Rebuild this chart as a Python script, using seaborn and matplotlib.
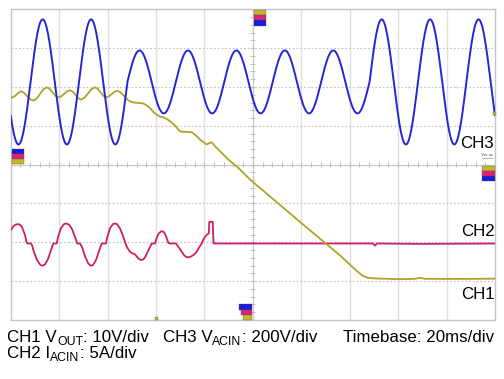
import numpy as np
import pandas as pd
import matplotlib
matplotlib.use("Agg")
import matplotlib.pyplot as plt
import seaborn as sns
from matplotlib.patches import Rectangle
from matplotlib.collections import LineCollection

# ---------------- data ----------------
timebase_ms_per_div = 20
n_xdiv = 10
n_ydiv = 8

# CH3 V_ACIN, 200 V/div: 50 Hz mains, peak amplitude of each cycle
# (each cycle starts at a rising zero crossing)
ch3_scale_V_per_div = 200
ch3_offset_div = 2.13
ch3_period_ms = 20.0
ch3_cycle_start_ms = [-11.8, 8.2, 28.2, 48.2, 68.2, 88.2, 108.2, 128.2, 148.2, 168.2, 188.2]
ch3_cycle_peak_V = [322, 322, 322, 162, 162, 162, 162, 162, 322, 322, 322]

# CH2 I_ACIN, 5 A/div
ch2_scale_A_per_div = 5
ch2_offset_div = -2.03
ch2_t_ms = [0, 1.36, 2.2, 3.14, 4.0, 4.67, 5.91, 6.61, 6.94, 8.38, 8.80, 9.62, 10.86, 12.10, 13.05,
            14.17, 15.40, 16.64, 17.59, 18.99, 19.53, 20.77, 22.01, 22.84, 24.08, 25.32,
            26.55, 27.50, 28.62, 29.45, 30.69, 31.92, 33.04, 33.99, 35.23, 36.46, 37.58,
            39.36, 39.77, 41.01, 42.25, 42.78, 43.90, 45.14, 46.38, 47.90, 49.27, 50.51,
            51.33, 52.70, 53.69, 54.64, 55.46, 56.70, 58.23, 59.59, 60.42, 61.24, 62.36,
            63.31, 64.13, 65.08, 65.79, 68.26, 69.21, 69.91, 70.62, 71.57, 72.39, 73.34,
            74.46, 75.70, 76.81, 77.76, 78.88, 79.42, 80.24, 81.07, 81.81, 82.02, 83.42,
            83.75, 102.95, 119.47, 149.62, 150.45, 151.27, 169.03, 200.0]
ch2_I_A = [1.72, 2.30, 2.45, 2.49, 2.38, 2.11, 1.08, 0.09, 0.0, 0.0, -0.21, -1.11, -2.13, -2.71, -2.87,
           -2.71, -2.00, -0.85, 0.0, 0.0, 0.82, 1.98, 2.49, 2.58, 2.43, 1.85,
           0.82, 0.0, 0.0, -0.46, -1.62, -2.52, -2.87, -2.77, -2.13, -0.98, 0.0,
           0.0, 0.69, 1.98, 2.49, 2.58, 2.49, 1.94, 0.95, -0.42, -1.07, -1.30,
           -1.40, -1.91, -2.13, -2.07, -1.79, -0.98, 0.0, 0.0, 0.82, 1.34, 1.59,
           1.46, 0.95, 0.09, 0.0, 0.0, -0.42, -0.72, -1.07, -1.49, -1.72, -1.79,
           -1.68, -1.43, -1.07, -0.53, 0.0, 0.44, 0.86, 1.14, 1.30, 2.79, 2.79,
           0.0, 0.0, 0.0, 0.0, -0.27, 0.0, -0.05, 0.0]

# CH1 V_OUT, 10 V/div
ch1_scale_V_per_div = 10
ch1_offset_div = -2.94
ch1_t_ms = [0, 1.4, 2.8, 4.13, 5.43, 6.73, 8.03, 9.33, 10.72, 12.10, 13.49, 14.87,
            16.07, 17.27, 18.46, 19.66, 20.87, 22.08, 23.28, 24.49, 25.63, 26.76, 27.90,
            29.03, 30.48, 31.92, 33.37, 34.81, 35.95, 37.09, 38.22, 39.36, 40.53, 41.69,
            42.86, 44.02, 45.2, 46.5, 47.6, 48.57, 49.8, 50.92, 52.57, 54.64, 56.0, 57.53,
            59.0, 60.29, 61.66, 63.02, 64.4, 65.79, 67.85, 69.0, 69.92, 71.2, 72.68, 74.75,
            76.5, 78.18, 80.94, 82.10, 83.01, 84.37, 89.86, 93.99, 98.82, 119.47, 135.99,
            142.18, 145.07, 147.55, 152.51, 160.77, 166.96, 169.03, 171.10, 185.56, 200.0]
ch1_V = [46.59, 46.9, 47.7, 48.28, 47.93, 47.09, 46.24, 45.89, 46.39, 47.60, 48.81, 49.31,
         48.93, 48.03, 47.12, 46.74, 47.00, 47.64, 48.28, 48.54, 48.19, 47.35, 46.50,
         46.15, 46.61, 47.73, 48.85, 49.31, 48.93, 48.03, 47.12, 46.74, 46.98, 47.58,
         48.17, 48.41, 48.1, 47.3, 46.5, 45.97, 45.55, 45.38, 45.30, 45.17, 44.7, 43.96,
         42.9, 42.29, 41.78, 41.60, 41.2, 40.57, 39.47, 38.6, 38.00, 37.85, 37.85, 37.72,
         36.9, 35.87, 34.58, 34.97, 35.17, 34.14, 30.72, 28.59, 25.58, 14.65, 6.04,
         2.44, 0.90, 0.23, 0.05, -0.08, 0.0, 0.28, 0.0, -0.03, 0.05]

label_ch1 = "CH1"
label_ch2 = "CH2"
label_ch3 = "CH3"
# caption pieces: (text, is_subscript)
caption_1a = [("CH1 V", False), ("OUT", True), (": 10V/div", False)]
caption_1b = [("CH3 V", False), ("ACIN", True), (": 200V/div", False)]
caption_1c = [("Timebase: 20ms/div", False)]
caption_2 = [("CH2 I", False), ("ACIN", True), (": 5A/div", False)]

# ---------------- styling ----------------
sns.set_style("white")
plt.rcParams["font.family"] = ["Liberation Sans", "DejaVu Sans"]

C_YEL = "#aea42a"
C_PNK = "#cc2068"
C_BLU = "#2626d2"

W, H = 504, 379
fig = plt.figure(figsize=(W / 100, H / 100), dpi=100)
fig.patch.set_facecolor("white")

L, R, T, B = 10.7, 495.0, 9.3, 320.0
ax = fig.add_axes([L / W, 1 - B / H, (R - L) / W, (B - T) / H])
xmax = timebase_ms_per_div * n_xdiv
ax.set_xlim(0, xmax)
ax.set_ylim(-n_ydiv / 2, n_ydiv / 2)
ax.set_xticks([])
ax.set_yticks([])
for s in ax.spines.values():
    s.set_color("#c4c4c4")
    s.set_linewidth(1.0)

# graticule
for k in range(1, n_xdiv):
    if k == n_xdiv // 2:
        continue
    ax.axvline(k * timebase_ms_per_div, color="#e0e0e0", lw=1.0, zorder=0)
for j in range(-3, 4):
    if j == 0:
        continue
    ax.axhline(j, color="#c8c8c8", lw=0.9, ls=(0, (1.5, 1.5)), zorder=0)
ax.axhline(0, color="#c8c8c8", lw=0.9, zorder=0)
ax.axvline(xmax / 2, color="#c8c8c8", lw=0.9, zorder=0)
segs = []
for x in np.arange(0, xmax + 0.01, timebase_ms_per_div / 5):
    segs.append([(x, -0.06), (x, 0.06)])
for y in np.arange(-4, 4.01, 0.2):
    segs.append([(xmax / 2 - 1.0, y), (xmax / 2 + 1.0, y)])
ax.add_collection(LineCollection(segs, colors="#c0c0c0", linewidths=0.8, zorder=0))
dots_x = np.arange(4, xmax, timebase_ms_per_div)
for yy in (-2.5, 2.5):
    ax.scatter(dots_x, np.full_like(dots_x, yy), s=1.2, color="#cfcfcf", lw=0, zorder=0)

# CH3 waveform from per-cycle peak amplitudes
t = np.linspace(0, xmax, 4001)
starts = np.array(ch3_cycle_start_ms)
idx = np.clip(np.searchsorted(starts, t, side="right") - 1, 0, len(starts) - 1)
amp = np.array(ch3_cycle_peak_V)[idx]
ch3_V = amp * np.sin(2 * np.pi * (t - starts[idx]) / ch3_period_ms)

df3 = pd.DataFrame({"t": t, "div": ch3_V / ch3_scale_V_per_div + ch3_offset_div})
df2 = pd.DataFrame({"t": ch2_t_ms, "div": np.array(ch2_I_A) / ch2_scale_A_per_div + ch2_offset_div})
df1 = pd.DataFrame({"t": ch1_t_ms, "div": np.array(ch1_V) / ch1_scale_V_per_div + ch1_offset_div})

sns.lineplot(data=df2, x="t", y="div", ax=ax, color=C_PNK, lw=1.3, estimator=None, sort=False, zorder=3)
sns.lineplot(data=df1, x="t", y="div", ax=ax, color=C_YEL, lw=1.3, estimator=None, sort=False, zorder=4)
sns.lineplot(data=df3, x="t", y="div", ax=ax, color=C_BLU, lw=1.4, estimator=None, sort=False, zorder=5)
ax.set_xlabel("")
ax.set_ylabel("")
ax.set_xlim(0, xmax)
ax.set_ylim(-n_ydiv / 2, n_ydiv / 2)

# overlay in pixel coordinates for labels & channel markers
ov = fig.add_axes([0, 0, 1, 1], zorder=10)
ov.set_xlim(0, W)
ov.set_ylim(H, 0)
ov.axis("off")
ov.patch.set_alpha(0)

MY, MP, MB = "#c2b828", "#e0207a", "#1c1cd8"
markers = [
    (254.3, 10.0, 11.7, 5.0, MY), (254.3, 15.0, 11.7, 5.0, MP), (254.3, 20.0, 11.7, 5.5, MB),
    (11.7, 149.0, 12.3, 5.0, MB), (11.7, 154.0, 12.3, 5.0, MP), (11.7, 159.2, 12.3, 4.5, MY),
    (481.7, 166.0, 13.3, 5.0, MY), (481.7, 171.0, 13.3, 5.0, MP), (481.7, 176.0, 13.3, 5.0, MB),
    (239.0, 304.3, 12.7, 5.4, MB), (241.0, 309.7, 10.7, 5.3, MP), (243.0, 315.0, 8.7, 5.0, MY),
    (155.0, 316.5, 2.5, 3.5, MY), (493.0, 112.0, 3.0, 3.0, MY),
]
for (x0, y0, w, h, c) in markers:
    ov.add_patch(Rectangle((x0, y0), w, h, facecolor=c, edgecolor="#555555", lw=0.25))

fs = 12.2
fs_sub = 8.8
ov.text(493.5, 148.3, label_ch3, fontsize=fs, ha="right", va="baseline", color="black")
ov.text(495.0, 236.0, label_ch2, fontsize=fs, ha="right", va="baseline", color="black")
ov.text(495.0, 299.3, label_ch1, fontsize=fs, ha="right", va="baseline", color="black")
ov.text(487.5, 156.5, "Vm ac", fontsize=3.2, ha="center", va="baseline", color="#555555")
ov.plot([482, 493], [157.5, 157.5], color="#777777", lw=0.4)

renderer = fig.canvas.get_renderer()


def rich_text(x, y, parts):
    for s, sub in parts:
        txt = ov.text(x, y + (2.6 if sub else 0.0), s, fontsize=fs_sub if sub else fs,
                      ha="left", va="baseline", color="black")
        bb = txt.get_window_extent(renderer)
        x += bb.width


rich_text(7.3, 342.3, caption_1a)
rich_text(162.7, 342.3, caption_1b)
rich_text(342.7, 342.3, caption_1c)
rich_text(7.3, 358.3, caption_2)

fig.savefig("out.png", dpi=100, facecolor="white")
